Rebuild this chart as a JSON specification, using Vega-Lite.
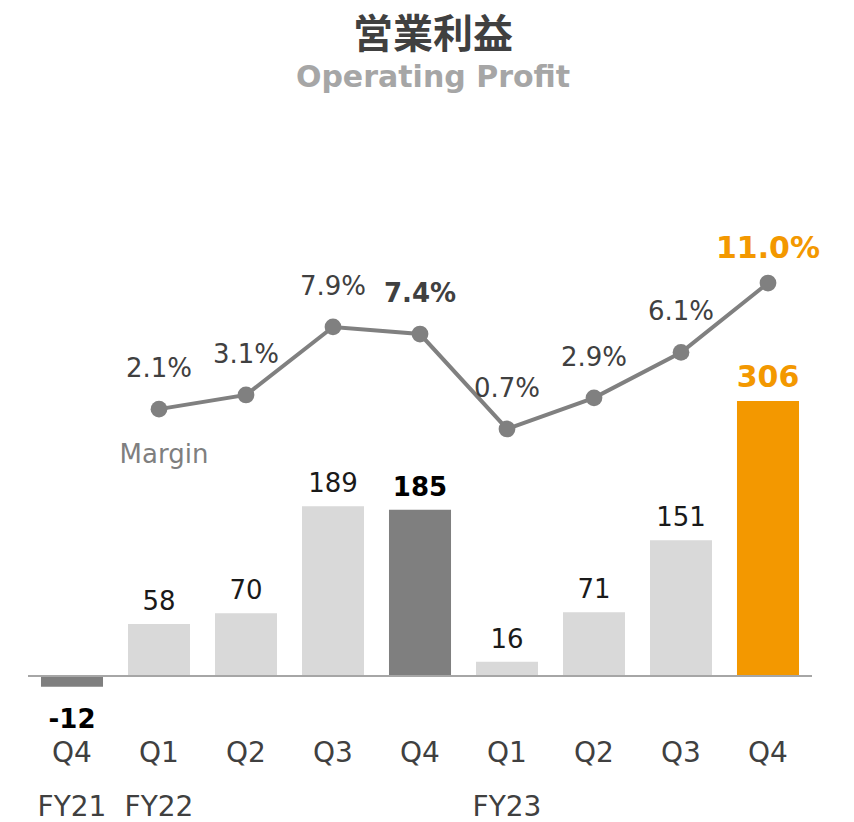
{
  "$schema": "https://vega.github.io/schema/vega-lite/v6.json",
  "autosize": {"type": "none"},
  "width": 783,
  "height": 503,
  "padding": {"left": 28.5, "top": 200, "right": 42.5, "bottom": 119},
  "background": "white",
  "title": {
    "text": "営業利益",
    "subtitle": "Operating Profit",
    "anchor": "middle",
    "frame": "group",
    "dx": 13,
    "offset": 107,
    "font": "Noto Sans CJK JP",
    "fontSize": 40,
    "fontWeight": "bold",
    "color": "#404040",
    "subtitleFont": "DejaVu Sans",
    "subtitleFontSize": 30,
    "subtitleFontWeight": "bold",
    "subtitleColor": "#A6A6A6",
    "subtitlePadding": 7
  },
  "config": {"view": {"stroke": null}, "font": "DejaVu Sans"},
  "data": {
    "values": [
      {"key": "Q4|FY21", "profit": -12, "margin": null, "kind": "prev"},
      {"key": "Q1|FY22", "profit": 58, "margin": 0.021, "kind": "base"},
      {"key": "Q2|", "profit": 70, "margin": 0.031, "kind": "base"},
      {"key": "Q3|", "profit": 189, "margin": 0.079, "kind": "base"},
      {"key": "Q4|", "profit": 185, "margin": 0.074, "kind": "prev"},
      {"key": "Q1|FY23", "profit": 16, "margin": 0.007, "kind": "base"},
      {"key": "Q2| ", "profit": 71, "margin": 0.029, "kind": "base"},
      {"key": "Q3| ", "profit": 151, "margin": 0.061, "kind": "base"},
      {"key": "Q4| ", "profit": 306, "margin": 0.110, "kind": "latest"}
    ]
  },
  "encoding": {
    "x": {
      "field": "key",
      "type": "nominal",
      "sort": null,
      "scale": {"paddingInner": 0.287, "paddingOuter": 0.1435},
      "axis": {
        "title": null,
        "domain": false,
        "ticks": false,
        "grid": false,
        "labelAngle": 0,
        "labelExpr": "split(datum.value, '|')",
        "labelFont": "DejaVu Sans",
        "labelFontSize": 28,
        "labelColor": "#404040",
        "labelLineHeight": 54,
        "labelPadding": 36,
        "labelBaseline": "top"
      }
    }
  },
  "layer": [
    {
      "encoding": {
        "y": {"field": "profit", "type": "quantitative", "scale": {"domain": [-30, 529.7], "nice": false, "zero": false}, "axis": null}
      },
      "layer": [
        {
          "mark": {"type": "bar"},
          "encoding": {
            "color": {"field": "kind", "type": "nominal", "scale": {"domain": ["base", "prev", "latest"], "range": ["#D9D9D9", "#7F7F7F", "#F39800"]}, "legend": null}
          }
        },
        {
          "mark": {"type": "rule", "color": "#A6A6A6", "strokeWidth": 2},
          "encoding": {"y": {"datum": 0}, "x": {"value": 0}, "x2": {"value": 783}}
        },
        {
          "transform": [{"filter": "datum.kind == 'base'"}],
          "mark": {"type": "text", "dy": -14, "baseline": "alphabetic", "fontSize": 26, "color": "#1A1A1A"},
          "encoding": {"text": {"field": "profit", "type": "nominal"}}
        },
        {
          "transform": [{"filter": "datum.kind == 'prev' && datum.profit > 0"}],
          "mark": {"type": "text", "dy": -14, "baseline": "alphabetic", "fontSize": 26, "fontWeight": "bold", "color": "#000000"},
          "encoding": {"text": {"field": "profit", "type": "nominal"}}
        },
        {
          "transform": [{"filter": "datum.profit < 0"}],
          "mark": {"type": "text", "dy": 41, "baseline": "alphabetic", "fontSize": 26, "fontWeight": "bold", "color": "#000000"},
          "encoding": {"text": {"field": "profit", "type": "nominal"}}
        },
        {
          "transform": [{"filter": "datum.kind == 'latest'"}],
          "mark": {"type": "text", "dy": -14, "baseline": "alphabetic", "fontSize": 30, "fontWeight": "bold", "color": "#F39800"},
          "encoding": {"text": {"field": "profit", "type": "nominal"}}
        }
      ]
    },
    {
      "transform": [{"filter": "isValid(datum.margin)"}],
      "encoding": {
        "y": {"field": "margin", "type": "quantitative", "scale": {"domain": [-0.1864, 0.1686], "nice": false, "zero": false}, "axis": null}
      },
      "layer": [
        {"mark": {"type": "line", "color": "#808080", "strokeWidth": 4}},
        {"mark": {"type": "point", "filled": true, "opacity": 1, "color": "#808080", "size": 280}},
        {
          "transform": [{"filter": "datum.kind == 'base'"}],
          "mark": {"type": "text", "dy": -32, "baseline": "alphabetic", "fontSize": 26, "color": "#404040"},
          "encoding": {"text": {"field": "margin", "type": "quantitative", "format": ".1%"}}
        },
        {
          "transform": [{"filter": "datum.kind == 'prev'"}],
          "mark": {"type": "text", "dy": -32, "baseline": "alphabetic", "fontSize": 26, "fontWeight": "bold", "color": "#404040"},
          "encoding": {"text": {"field": "margin", "type": "quantitative", "format": ".1%"}}
        },
        {
          "transform": [{"filter": "datum.kind == 'latest'"}],
          "mark": {"type": "text", "dy": -25, "baseline": "alphabetic", "fontSize": 30, "fontWeight": "bold", "color": "#F39800"},
          "encoding": {"text": {"field": "margin", "type": "quantitative", "format": ".1%"}}
        },
        {
          "transform": [{"filter": "datum.key == 'Q1|FY22'"}],
          "mark": {"type": "text", "dy": 54, "dx": 5, "baseline": "alphabetic", "fontSize": 26, "color": "#7F7F7F", "text": "Margin"}
        }
      ]
    }
  ],
  "resolve": {"scale": {"y": "independent"}}
}
